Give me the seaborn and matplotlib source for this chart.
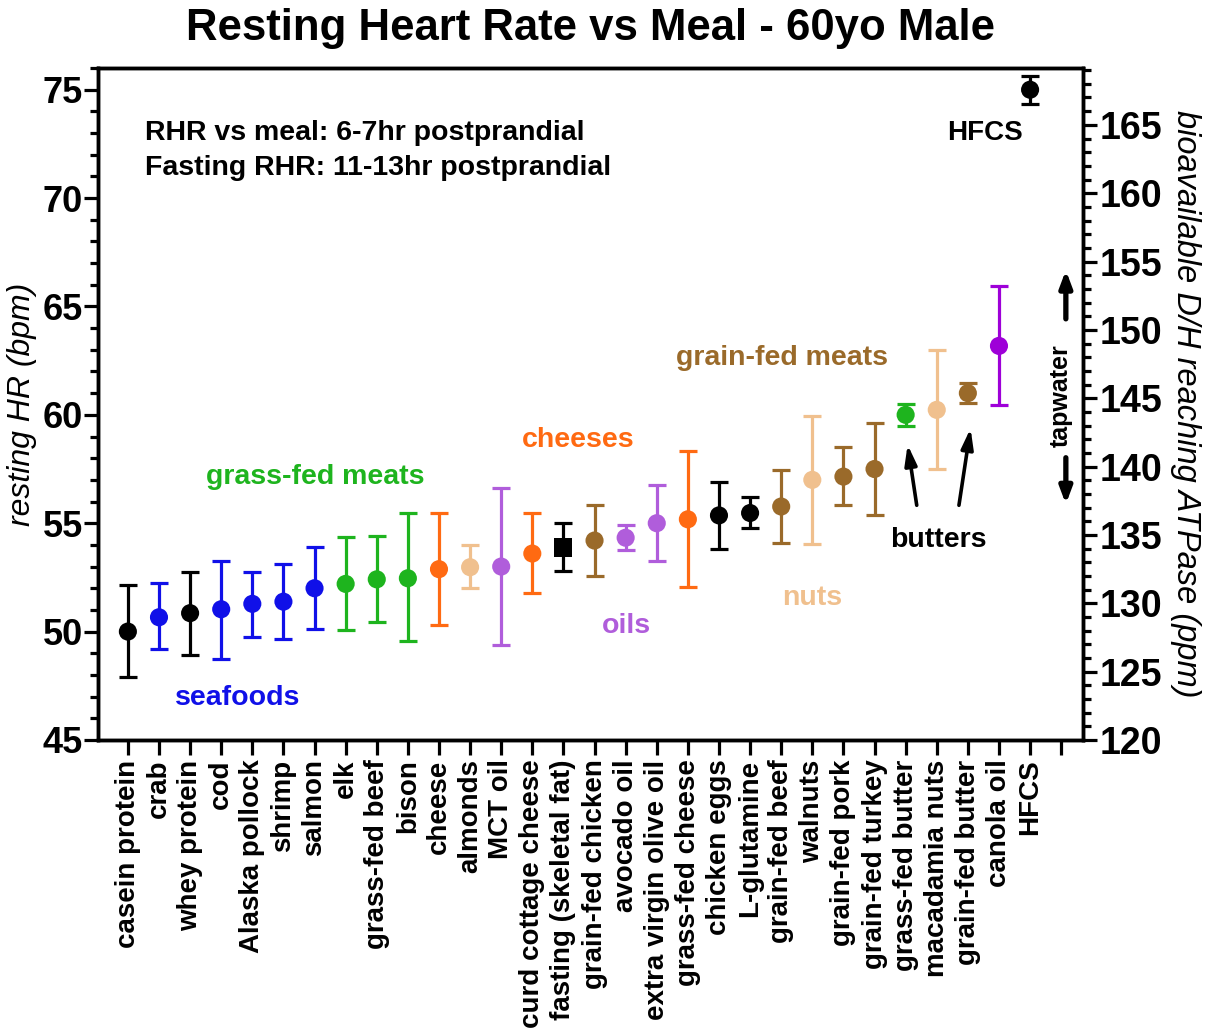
import pandas as pd
import matplotlib
matplotlib.use("Agg")
import matplotlib.pyplot as plt
from matplotlib.ticker import MultipleLocator
import seaborn as sns

# -------------------------------
# data
# -------------------------------
meals = ['casein protein', 'crab', 'whey protein', 'cod', 'Alaska pollock', 'shrimp',
         'salmon', 'elk', 'grass-fed beef', 'bison', 'cheese', 'almonds', 'MCT oil',
         'curd cottage cheese', 'fasting (skeletal fat)', 'grain-fed chicken', 'avocado oil',
         'extra virgin olive oil', 'grass-fed cheese', 'chicken eggs', 'L-glutamine',
         'grain-fed beef', 'walnuts', 'grain-fed pork', 'grain-fed turkey',
         'grass-fed butter', 'macadamia nuts', 'grain-fed butter', 'canola oil', 'HFCS']
rhr_mean = [50.0, 50.66, 50.85, 51.03, 51.28, 51.38, 52.0, 52.2, 52.41, 52.46, 52.88, 52.97,
            53.0, 53.6, 53.88, 54.2, 54.33, 55.0, 55.18, 55.36, 55.47, 55.77, 57.0, 57.15,
            57.5, 60.0, 60.23, 61.0, 63.18, 75.0]
rhr_low = [47.9, 49.18, 48.92, 48.75, 49.77, 49.68, 50.14, 50.08, 50.46, 49.58, 50.31, 51.99,
           49.38, 51.79, 52.81, 52.57, 53.75, 53.27, 52.07, 53.8, 54.8, 54.1, 54.04, 55.83,
           55.37, 59.5, 57.5, 60.55, 60.46, 74.35]
rhr_high = [52.15, 52.23, 52.73, 53.27, 52.77, 53.12, 53.92, 54.35, 54.41, 55.46, 55.46, 54.0,
            56.61, 55.46, 55.0, 55.85, 54.9, 56.77, 58.34, 56.9, 56.2, 57.46, 59.95, 58.5,
            59.64, 60.5, 63.0, 61.46, 65.95, 75.65]
group = ['other', 'seafood', 'other', 'seafood', 'seafood', 'seafood', 'seafood',
         'grass', 'grass', 'grass', 'cheese', 'nuts', 'oils', 'cheese', 'fasting',
         'grain', 'oils', 'oils', 'cheese', 'other', 'other', 'grain', 'nuts', 'grain',
         'grain', 'grass', 'nuts', 'grain', 'canola', 'other']

palette = {'other': '#000000', 'fasting': '#000000', 'seafood': '#1010E8',
           'grass': '#1EB41E', 'cheese': '#FF6A12', 'nuts': '#F0C08E',
           'oils': '#B05DDB', 'grain': '#9A6A2A', 'canola': '#9E00D8'}
shapes = {g: 'o' for g in palette}
shapes['fasting'] = 's'

df = pd.DataFrame({'meal': meals, 'rhr': rhr_mean, 'low': rhr_low,
                   'high': rhr_high, 'group': group})
df['pos'] = range(len(df))

# -------------------------------
# figure
# -------------------------------
sns.set_theme(style="ticks", rc={'axes.edgecolor': 'black', 'text.color': 'black',
                                 'axes.labelcolor': 'black', 'xtick.color': 'black',
                                 'ytick.color': 'black'})
plt.rcParams['font.family'] = ['Liberation Sans', 'DejaVu Sans']
plt.rcParams['font.weight'] = 'bold'

fig = plt.figure(figsize=(12.16, 10.31), dpi=100)
ax = fig.add_axes([0.0806, 0.2823, 0.81, 0.6517])

for _, r in df.iterrows():
    ax.errorbar(r['pos'], r['rhr'], yerr=[[r['rhr'] - r['low']], [r['high'] - r['rhr']]],
                fmt='none', ecolor=palette[r['group']], elinewidth=2.3,
                capsize=6.5, capthick=2.3, zorder=2)

sns.scatterplot(data=df, x='pos', y='rhr', hue='group', style='group', palette=palette,
                markers=shapes, s=170, edgecolor='none', legend=False, zorder=3, ax=ax)

ax.set_xlim(-0.96, 30.7)
ax.set_ylim(45, 76)
ax.set_xticks(range(len(meals) + 1))
ax.set_xticklabels(meals + [''], rotation=90, fontsize=20, fontweight='bold')
ax.set_xlabel('')
ax.yaxis.set_major_locator(MultipleLocator(5))
ax.yaxis.set_minor_locator(MultipleLocator(1))
ax.tick_params(axis='y', which='major', labelsize=26, length=10, width=2.3, pad=1)
ax.tick_params(axis='y', which='minor', length=6, width=2.3)
ax.tick_params(axis='x', which='major', length=11, width=2.3, pad=3)
for lab in ax.get_yticklabels():
    lab.set_fontweight('bold')
ax.set_ylabel('resting HR (bpm)', fontsize=23, fontstyle='italic', fontweight='normal',
              labelpad=4)
for sp in ax.spines.values():
    sp.set_linewidth(2.5)

# right axis: D/H in ppm
ax2 = ax.twinx()
ax2.set_ylim(120, 120 + 31 * 45 / 28.38)
ax2.yaxis.set_major_locator(MultipleLocator(5))
ax2.yaxis.set_minor_locator(MultipleLocator(1))
ax2.tick_params(axis='y', which='major', labelsize=27, length=10, width=2.3, pad=2)
ax2.tick_params(axis='y', which='minor', length=6, width=2.3)
for lab in ax2.get_yticklabels():
    lab.set_fontweight('bold')
ax2.set_ylabel('bioavailable D/H reaching ATPase (ppm)', fontsize=23.5, fontstyle='italic',
               fontweight='normal', rotation=-90, labelpad=28)
for sp in ax2.spines.values():
    sp.set_linewidth(2.5)

ax.set_title('Resting Heart Rate vs Meal - 60yo Male', fontsize=31.5, fontweight='bold', pad=20)

# annotations
ax.text(0.048, 0.903, 'RHR vs meal: 6-7hr postprandial', transform=ax.transAxes,
        fontsize=20.5, fontweight='bold', va='center')
ax.text(0.048, 0.851, 'Fasting RHR: 11-13hr postprandial', transform=ax.transAxes,
        fontsize=20.5, fontweight='bold', va='center')
ax.text(27.55, 73.0, 'HFCS', fontsize=20, fontweight='bold', ha='center', va='center')
ax.text(21.03, 62.63, 'grain-fed meats', color=palette['grain'], fontsize=20.5,
        fontweight='bold', ha='center', va='center')
ax.text(14.47, 58.84, 'cheeses', color=palette['cheese'], fontsize=20.5,
        fontweight='bold', ha='center', va='center')
ax.text(6.01, 57.14, 'grass-fed meats', color=palette['grass'], fontsize=20.5,
        fontweight='bold', ha='center', va='center')
ax.text(3.54, 46.94, 'seafoods', color=palette['seafood'], fontsize=20.5,
        fontweight='bold', ha='center', va='center')
ax.text(16.01, 50.26, 'oils', color=palette['oils'], fontsize=20.5,
        fontweight='bold', ha='center', va='center')
ax.text(22.0, 51.55, 'nuts', color=palette['nuts'], fontsize=20.5,
        fontweight='bold', ha='center', va='center')
ax.text(26.05, 54.23, 'butters', fontsize=20.5, fontweight='bold', ha='center', va='center')
ax.annotate('', xy=(25.05, 58.75), xytext=(25.37, 55.7),
            arrowprops=dict(arrowstyle='-|>,head_width=0.3,head_length=1.0',
                            color='black', lw=2.6))
ax.annotate('', xy=(27.1, 59.5), xytext=(26.7, 55.7),
            arrowprops=dict(arrowstyle='-|>,head_width=0.3,head_length=1.0',
                            color='black', lw=2.6))

# tapwater arrows beside the right axis
ax.text(30.0, 60.9, 'tapwater', fontsize=18, fontweight='bold', rotation=90,
        ha='center', va='center')
ax.annotate('', xy=(30.15, 66.8), xytext=(30.15, 64.3),
            arrowprops=dict(arrowstyle='-|>,head_width=0.3,head_length=0.8',
                            color='black', lw=3.8))
ax.annotate('', xy=(30.15, 55.75), xytext=(30.15, 58.15),
            arrowprops=dict(arrowstyle='-|>,head_width=0.3,head_length=0.8',
                            color='black', lw=3.8))

fig.savefig('out.png', dpi=100)
